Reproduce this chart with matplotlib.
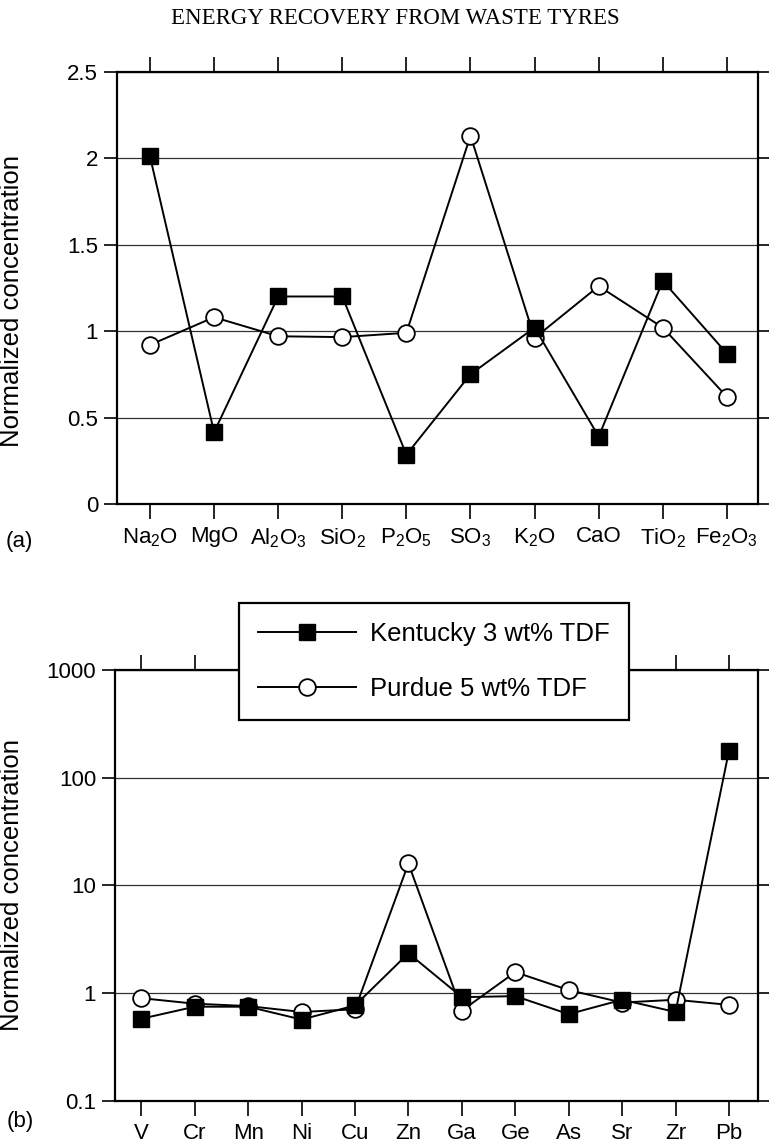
import numpy as np
import matplotlib
matplotlib.use('Agg')
import matplotlib.pyplot as plt
from matplotlib.lines import Line2D
from matplotlib.ticker import FixedLocator, FixedFormatter, NullLocator

plt.rcParams['font.family'] = 'Liberation Sans'
plt.rcParams['mathtext.fontset'] = 'custom'
plt.rcParams['mathtext.rm'] = 'Liberation Sans'
plt.rcParams['mathtext.default'] = 'regular'

# oxydes (a)
oxydes = ['Na$_2$O', 'MgO', 'Al$_2$O$_3$', 'SiO$_2$', 'P$_2$O$_5$',
          'SO$_3$', 'K$_2$O', 'CaO', 'TiO$_2$', 'Fe$_2$O$_3$']
kentucky_ox = [2.01, 0.415, 1.20, 1.20, 0.285, 0.75, 1.02, 0.39, 1.29, 0.87]
purdue_ox = [0.92, 1.08, 0.97, 0.965, 0.99, 2.13, 0.96, 1.26, 1.02, 0.62]

# elements traces (b)
elements = ['V', 'Cr', 'Mn', 'Ni', 'Cu', 'Zn', 'Ga', 'Ge', 'As', 'Sr', 'Zr', 'Pb']
kentucky_el = [0.58, 0.75, 0.75, 0.57, 0.77, 2.35, 0.92, 0.94, 0.64, 0.87, 0.67, 177]
purdue_el = [0.90, 0.80, 0.76, 0.67, 0.71, 16, 0.69, 1.57, 1.07, 0.82, 0.87, 0.78]

series_names = ['Kentucky 3 wt% TDF', 'Purdue 5 wt% TDF']

fig = plt.figure(figsize=(7.69, 11.47), dpi=100)
fig.patch.set_facecolor('white')

ax1 = fig.add_axes([0.1521, 0.5606, 0.8336, 0.3769])
ax2 = fig.add_axes([0.1495, 0.0401, 0.8361, 0.3758])

sq_style = dict(color='black', lw=1.4, marker='s', ms=12, mfc='black', mec='black', mew=1.0)
ci_style = dict(color='black', lw=1.4, marker='o', ms=12, mfc='white', mec='black', mew=1.3)


def style_axis(ax):
    for s in ax.spines.values():
        s.set_linewidth(1.6)
    ax.yaxis.grid(True, color='#333333', lw=0.9)
    ax.set_axisbelow(True)
    ax.tick_params(axis='x', which='major', direction='out', top=True, bottom=True,
                   length=11, width=1.2, labelsize=16, pad=5)
    ax.tick_params(axis='y', which='major', direction='out', left=True, right=True,
                   length=9.5, width=1.2, labelsize=16, pad=4)
    ax.tick_params(axis='y', which='minor', left=False, right=False)
    ax.set_ylabel('Normalized concentration', fontsize=18.5)


x1 = np.arange(len(oxydes))
ax1.plot(x1, purdue_ox, zorder=3, **ci_style)
ax1.plot(x1, kentucky_ox, zorder=4, **sq_style)
ax1.set_xlim(-0.515, 9.485)
ax1.set_ylim(0, 2.5)
ax1.set_yticks([0, 0.5, 1, 1.5, 2, 2.5])
ax1.set_yticklabels(['0', '0.5', '1', '1.5', '2', '2.5'])
ax1.set_xticks(x1)
ax1.set_xticklabels(oxydes)
style_axis(ax1)
ax1.yaxis.set_label_coords(-0.145, 0.47)

x2 = np.arange(len(elements))
ax2.plot(x2, purdue_el, zorder=3, **ci_style)
ax2.plot(x2, kentucky_el, zorder=4, **sq_style)
ax2.set_yscale('log')
ax2.set_xlim(-0.494, 11.543)
ax2.set_ylim(0.1, 1000)
ax2.yaxis.set_major_locator(FixedLocator([0.1, 1, 10, 100, 1000]))
ax2.yaxis.set_major_formatter(FixedFormatter(['0.1', '1', '10', '100', '1000']))
ax2.yaxis.set_minor_locator(NullLocator())
ax2.set_xticks(x2)
ax2.set_xticklabels(elements)
style_axis(ax2)
ax2.yaxis.set_label_coords(-0.1415, 0.5)

fig.text(6 / 769, 1 - 541 / 1147, '(a)', fontsize=16, ha='left', va='center')
fig.text(7 / 769, 1 - 1121 / 1147, '(b)', fontsize=16, ha='left', va='center')

fig.text(395.5 / 769, 1 - 19 / 1147, 'ENERGY RECOVERY FROM WASTE TYRES',
         family='Liberation Serif', fontsize=16.5, ha='center', va='center')

handles = [Line2D([], [], **sq_style), Line2D([], [], **ci_style)]
leg = fig.legend(handles, series_names, loc='upper left',
                 bbox_to_anchor=(239 / 769, 1 - 602.7 / 1147),
                 fontsize=18.5, frameon=True, fancybox=False, framealpha=1,
                 edgecolor='black', borderpad=0.75, handlelength=3.8,
                 handletextpad=0.55, labelspacing=1.2, numpoints=1,
                 borderaxespad=0)
leg.get_frame().set_linewidth(1.6)

fig.savefig('out.png', dpi=100, facecolor='white')
